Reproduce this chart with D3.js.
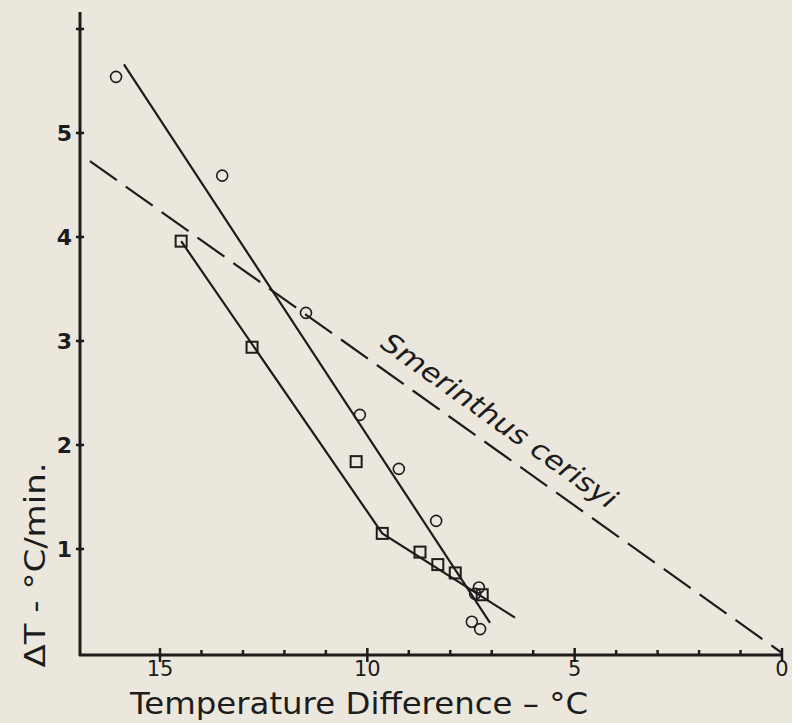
<!DOCTYPE html>
<html>
<head>
<meta charset="utf-8">
<script src="https://cdn.jsdelivr.net/npm/d3@7"></script>
<style>
    body { margin: 0; background: #ebe7dc; }
    svg { display: block; }
</style>
</head>
<body>
<div id="chart"></div>
<script>
// circles: temperature difference (°C) and cooling rate (°C/min)
let circleTemp = [16.06, 13.5, 11.48, 10.18, 9.24, 8.34, 7.31, 7.40, 7.48, 7.28];
let circleRate = [5.54, 4.59, 3.27, 2.29, 1.77, 1.27, 0.63, 0.57, 0.30, 0.23];

// squares
let squareTemp = [14.49, 12.78, 10.27, 9.64, 8.73, 8.30, 7.88, 7.23];
let squareRate = [3.96, 2.94, 1.84, 1.15, 0.97, 0.85, 0.77, 0.56];

// fitted lines
let circleFitTemp = [15.87, 7.04];
let circleFitRate = [5.66, 0.29];
let squareFitTemp = [14.49, 9.64, 6.44];
let squareFitRate = [3.96, 1.15, 0.34];
let smerinthusTemp = [16.69, 0];
let smerinthusRate = [4.73, 0];

// ticks
let xMajorTicks = [15, 10, 5, 0];
let xMinorTicks = [14, 13, 12, 11, 9, 8, 7, 6, 4, 3, 2, 1];
let yTicks = [1, 2, 3, 4, 5, 6];
let yTickLabels = ["1", "2", "3", "4", "5", ""];

let w = 792;
let h = 723;
let ink = "#1c1c1c";
let font = "'DejaVu Sans', sans-serif";

let xScale = d3.scaleLinear()
                .domain([15, 0])
                .range([160, 782]);

let yScale = d3.scaleLinear()
                .domain([0, 6])
                .range([653, 29]);

let axisX0 = 80;
let axisY0 = 655;

let svg = d3.select("#chart")
            .append("svg")
            .attr("width", w)
            .attr("height", h);

svg.append("rect")
    .attr("width", w)
    .attr("height", h)
    .attr("fill", "#ebe7dc");

//axes lines
svg.append("line")
    .attr("x1", axisX0).attr("x2", axisX0)
    .attr("y1", 12).attr("y2", axisY0 + 1)
    .attr("stroke", ink).attr("stroke-width", 3);

svg.append("line")
    .attr("x1", axisX0 - 1).attr("x2", xScale(0))
    .attr("y1", axisY0).attr("y2", axisY0)
    .attr("stroke", ink).attr("stroke-width", 3);

//x ticks
svg.append("g")
    .selectAll("line")
    .data(xMajorTicks)
    .enter()
    .append("line")
    .attr("x1", d => xScale(d)).attr("x2", d => xScale(d))
    .attr("y1", axisY0 - 7).attr("y2", axisY0 + 7)
    .attr("stroke", ink).attr("stroke-width", 2.5);

svg.append("g")
    .selectAll("line")
    .data(xMinorTicks)
    .enter()
    .append("line")
    .attr("x1", d => xScale(d)).attr("x2", d => xScale(d))
    .attr("y1", axisY0 - 5).attr("y2", axisY0)
    .attr("stroke", ink).attr("stroke-width", 2.5);

svg.append("g")
    .selectAll("text")
    .data(xMajorTicks)
    .enter()
    .append("text")
    .attr("x", d => xScale(d))
    .attr("y", axisY0 + 21)
    .attr("text-anchor", "middle")
    .attr("font-family", font)
    .attr("font-size", "21px")
    .attr("fill", ink)
    .text(d => d);

//y ticks
svg.append("g")
    .selectAll("line")
    .data(yTicks)
    .enter()
    .append("line")
    .attr("x1", axisX0 - 4).attr("x2", axisX0 + 4)
    .attr("y1", d => yScale(d)).attr("y2", d => yScale(d))
    .attr("stroke", ink).attr("stroke-width", 2.5);

svg.append("g")
    .selectAll("text")
    .data(yTicks)
    .enter()
    .append("text")
    .attr("x", axisX0 - 8)
    .attr("y", d => yScale(d))
    .attr("dy", "0.36em")
    .attr("text-anchor", "end")
    .attr("font-family", font)
    .attr("font-weight", "bold")
    .attr("font-size", "22px")
    .attr("fill", ink)
    .text((d, i) => yTickLabels[i]);

//axis titles
svg.append("text")
    .attr("x", 359)
    .attr("y", 714)
    .attr("text-anchor", "middle")
    .attr("font-family", font)
    .attr("font-size", "31px")
    .attr("textLength", 458)
    .attr("lengthAdjust", "spacingAndGlyphs")
    .attr("fill", ink)
    .text("Temperature Difference – °C");

svg.append("text")
    .attr("transform", "translate(45, 565) rotate(-90)")
    .attr("text-anchor", "middle")
    .attr("font-family", font)
    .attr("font-size", "28px")
    .attr("textLength", 205)
    .attr("lengthAdjust", "spacingAndGlyphs")
    .attr("fill", ink)
    .text("ΔT - °C/min.");

//lines
let line = d3.line()
                .x(d => xScale(d[0]))
                .y(d => yScale(d[1]));

svg.append("path")
    .attr("d", line(d3.zip(circleFitTemp, circleFitRate)))
    .attr("fill", "none")
    .attr("stroke", ink)
    .attr("stroke-width", 2.2);

svg.append("path")
    .attr("d", line(d3.zip(squareFitTemp, squareFitRate)))
    .attr("fill", "none")
    .attr("stroke", ink)
    .attr("stroke-width", 2.2);

svg.append("path")
    .attr("d", line(d3.zip(smerinthusTemp, smerinthusRate)))
    .attr("fill", "none")
    .attr("stroke", ink)
    .attr("stroke-width", 2.2)
    .attr("stroke-dasharray", "33 11");

//species label along the dashed line
let p0 = [xScale(smerinthusTemp[0]), yScale(smerinthusRate[0])];
let p1 = [xScale(smerinthusTemp[1]), yScale(smerinthusRate[1])];
let angle = Math.atan2(p1[1] - p0[1], p1[0] - p0[0]) * 180 / Math.PI;
let labelX = xScale(6.95);
let labelY = yScale(smerinthusRate[0] * 6.95 / smerinthusTemp[0]) - 20;

svg.append("text")
    .attr("transform", `translate(${labelX}, ${labelY}) rotate(${angle})`)
    .attr("text-anchor", "middle")
    .attr("font-family", font)
    .attr("font-style", "italic")
    .attr("font-size", "27px")
    .attr("textLength", 282)
    .attr("lengthAdjust", "spacingAndGlyphs")
    .attr("fill", ink)
    .text("Smerinthus cerisyi");

//markers
svg.append("g")
    .selectAll("circle")
    .data(d3.zip(circleTemp, circleRate))
    .enter()
    .append("circle")
    .attr("cx", d => xScale(d[0]))
    .attr("cy", d => yScale(d[1]))
    .attr("r", 5.5)
    .attr("fill", "none")
    .attr("stroke", ink)
    .attr("stroke-width", 1.6);

svg.append("g")
    .selectAll("rect")
    .data(d3.zip(squareTemp, squareRate))
    .enter()
    .append("rect")
    .attr("x", d => xScale(d[0]) - 5.5)
    .attr("y", d => yScale(d[1]) - 5.5)
    .attr("width", 11)
    .attr("height", 11)
    .attr("fill", "none")
    .attr("stroke", ink)
    .attr("stroke-width", 2);
</script>
</body>
</html>
